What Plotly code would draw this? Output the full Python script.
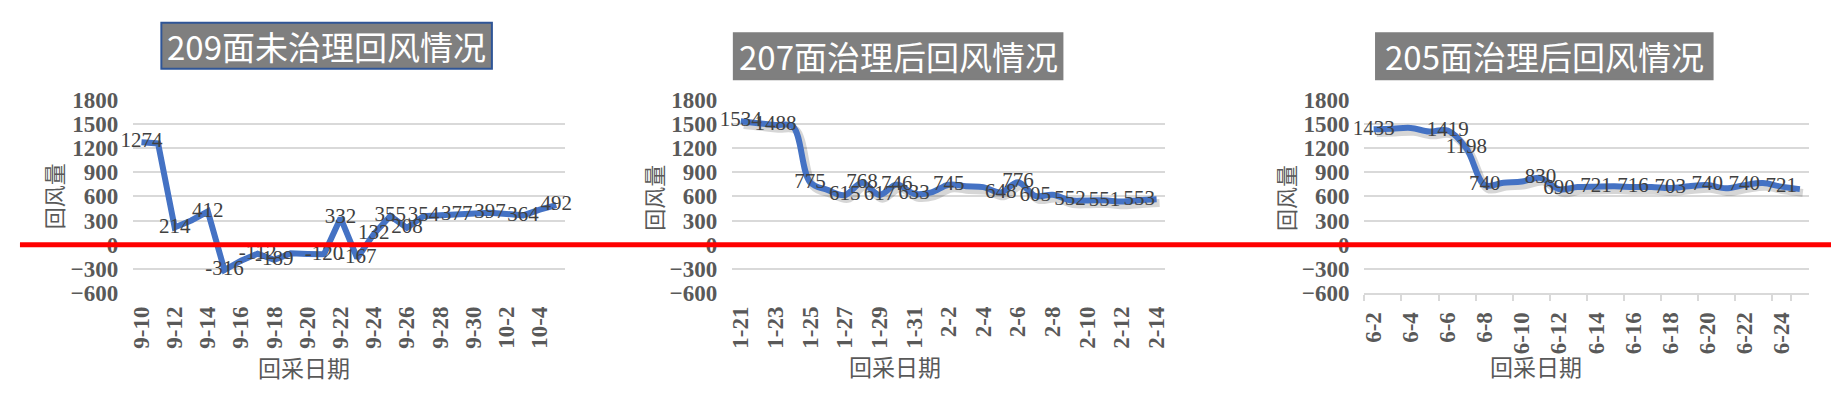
import plotly.graph_objects as go

# ---------------- data ----------------
dates_209 = ["9-10", "9-11", "9-12", "9-13", "9-14", "9-15", "9-16", "9-17", "9-18", "9-19",
             "9-20", "9-21", "9-22", "9-23", "9-24", "9-25", "9-26", "9-27", "9-28", "9-29",
             "9-30", "10-1", "10-2", "10-3", "10-4", "10-5"]
flow_209 = [1274, 1258, 214, 300, 412, -316, -200, -112, -189, -108,
            -116, -120, 332, -167, 132, 355, 208, 354, 365, 377,
            388, 397, 382, 364, 435, 492]
label_idx_209 = [0, 2, 4, 5, 7, 8, 11, 12, 13, 14, 15, 16, 17, 19, 21, 23, 25]

dates_207 = ["1-21", "1-22", "1-23", "1-24", "1-25", "1-26", "1-27", "1-28", "1-29", "1-30",
             "1-31", "2-1", "2-2", "2-3", "2-4", "2-5", "2-6", "2-7", "2-8", "2-9",
             "2-10", "2-11", "2-12", "2-13", "2-14"]
flow_207 = [1534, 1510, 1488, 1470, 775, 680, 615, 768, 617, 746,
            633, 650, 745, 725, 715, 648, 776, 605, 620, 552,
            550, 551, 535, 553, 565]
label_idx_207 = [0, 2, 4, 6, 7, 8, 9, 10, 12, 15, 16, 17, 19, 21, 23]

dates_205 = ["6-2", "6-3", "6-4", "6-5", "6-6", "6-7", "6-8", "6-9", "6-10", "6-11",
             "6-12", "6-13", "6-14", "6-15", "6-16", "6-17", "6-18", "6-19", "6-20", "6-21",
             "6-22", "6-23", "6-24", "6-25"]
flow_205 = [1433, 1440, 1450, 1405, 1419, 1198, 740, 770, 785, 830,
            690, 715, 721, 725, 716, 715, 703, 725, 740, 700,
            740, 765, 721, 690]
label_idx_205 = [0, 4, 5, 6, 9, 10, 12, 14, 16, 18, 20, 22]

titles = ["209面未治理回风情况", "207面治理后回风情况", "205面治理后回风情况"]
y_title = "回风量"
x_title = "回采日期"
y_ticks = [-600, -300, 0, 300, 600, 900, 1200, 1500, 1800]

# ---------------- layout geometry (pixels) ----------------
W, H = 1839, 409
PLOT_TOP, PLOT_BOT = 85.0, 290.7
panels_px = [(121.7, 555.0), (723.3, 1158.3), (1358.3, 1805.0)]
title_boxes = [(150, 3, 482, 52), (725, 14, 1055, 63), (1370, 14, 1708, 63)]
ytitle_pos = [(41, 188), (644, 189), (1279, 189)]
xtitle_pos = [(293, 370), (887, 368), (1531, 368)]

def px_x(x):
    return x / W

def px_y(y):
    return 1 - y / H

ydom = [px_y(PLOT_BOT), px_y(PLOT_TOP)]
BLUE = "#4472C4"
GRID = "#d9d9d9"
TICKC = "#595959"
SERIF = "Liberation Serif"
CJK = "Noto Sans CJK SC"

fig = go.Figure()

def texts(vals, idx):
    return [str(v) if i in idx else "" for i, v in enumerate(vals)]

label_font = dict(family=SERIF, size=21, color="#404040")

# Panel 1 (straight line, no shadow)
fig.add_trace(go.Scatter(x=dates_209, y=flow_209, mode="lines+text",
                         text=texts(flow_209, label_idx_209), textposition="middle center",
                         textfont=label_font, line=dict(color=BLUE, width=6),
                         cliponaxis=False, xaxis="x", yaxis="y", showlegend=False))

# Panels 2 and 3: shadow on base axes, main smooth line on overlay axes
shadow = "rgba(0,0,0,0.16)"
for base, over, dates, vals, idx in [(2, 5, dates_207, flow_207, label_idx_207),
                                     (3, 6, dates_205, flow_205, label_idx_205)]:
    fig.add_trace(go.Scatter(x=dates, y=vals, mode="lines",
                             line=dict(color=shadow, width=8, shape="spline"),
                             xaxis=f"x{base}", yaxis=f"y{base}", showlegend=False,
                             hoverinfo="skip"))
    fig.add_trace(go.Scatter(x=dates, y=vals, mode="lines+text",
                             text=texts(vals, idx), textposition="middle center",
                             textfont=label_font,
                             line=dict(color=BLUE, width=6, shape="spline"),
                             cliponaxis=False, xaxis=f"x{over}", yaxis=f"y{over}",
                             showlegend=False))

yaxis_common = dict(range=[-600, 1800], tickvals=y_ticks, showgrid=True, gridcolor=GRID,
                    gridwidth=2, zeroline=False, showline=False, ticks="",
                    tickfont=dict(family=SERIF, size=23, color=TICKC, weight="bold"),
                    ticklabelstandoff=14, fixedrange=True)

def xaxis_main(dates, ticks_on=False):
    d = dict(type="category", categoryorder="array", categoryarray=dates,
             range=[-0.5, len(dates) - 0.5], tickvals=dates[::2], tickangle=-90,
             showgrid=False, zeroline=False,
             tickfont=dict(family=SERIF, size=23, color=TICKC, weight="bold"),
             ticklabelstandoff=8, fixedrange=True)
    if ticks_on:
        d.update(ticks="outside", ticklen=6, tickcolor=GRID, tickwidth=2,
                 tickson="boundaries", showline=True, linecolor=GRID, linewidth=2)
    else:
        d.update(ticks="", showline=False)
    return d

# shadow offset in pixels -> axis units
SDX, SDY = 3, 4
def shift_x(dates, px_left, px_right):
    n = len(dates)
    per = (px_right - px_left) / n
    s = SDX / per
    return [-0.5 - s, n - 0.5 - s]

yunits = 2400 / (PLOT_BOT - PLOT_TOP)
shift_y = [-600 + SDY * yunits, 1800 + SDY * yunits]

layout = dict(width=W, height=H, margin=dict(l=0, r=0, t=0, b=0),
              paper_bgcolor="white", plot_bgcolor="white")

# panel 1
layout["xaxis"] = dict(domain=[px_x(panels_px[0][0]), px_x(panels_px[0][1])], anchor="y",
                       **xaxis_main(dates_209))
layout["yaxis"] = dict(domain=ydom, anchor="x", **yaxis_common)

# base (shadow) axes for panels 2, 3
for k, (dates, p) in zip([2, 3], [(dates_207, panels_px[1]), (dates_205, panels_px[2])]):
    layout[f"xaxis{k}"] = dict(domain=[px_x(p[0]), px_x(p[1])], anchor=f"y{k}",
                               type="category", categoryorder="array", categoryarray=dates,
                               range=shift_x(dates, p[0], p[1]), visible=False, fixedrange=True)
    layout[f"yaxis{k}"] = dict(domain=ydom, anchor=f"x{k}", range=shift_y,
                               visible=False, fixedrange=True)

# overlay axes (main lines + visible grid/ticks)
layout["xaxis5"] = dict(overlaying="x2", anchor="y5", **xaxis_main(dates_207))
layout["yaxis5"] = dict(overlaying="y2", anchor="x5", **yaxis_common)
layout["xaxis6"] = dict(overlaying="x3", anchor="y6", **xaxis_main(dates_205, ticks_on=True))
layout["yaxis6"] = dict(overlaying="y3", anchor="x6", **yaxis_common)

fig.update_layout(**layout)

shapes = []
annotations = []
for i, (x0, y0, x1, y1) in enumerate(title_boxes):
    shapes.append(dict(type="rect", xref="paper", yref="paper",
                       x0=px_x(x0), x1=px_x(x1), y0=px_y(y1), y1=px_y(y0),
                       fillcolor="#7f7f7f",
                       line=dict(color="#2f5597" if i == 0 else "#7f7f7f", width=2),
                       layer="above"))
    annotations.append(dict(text=titles[i], xref="paper", yref="paper",
                            x=px_x((x0 + x1) / 2), y=px_y((y0 + y1) / 2),
                            xanchor="center", yanchor="middle", showarrow=False,
                            font=dict(family=CJK, size=33, color="white")))
for (yx, yy), (xx, xy) in zip(ytitle_pos, xtitle_pos):
    annotations.append(dict(text=y_title, xref="paper", yref="paper",
                            x=px_x(yx), y=px_y(yy), xanchor="center", yanchor="middle",
                            textangle=-90, showarrow=False,
                            font=dict(family=CJK, size=22, color=TICKC)))
    annotations.append(dict(text=x_title, xref="paper", yref="paper",
                            x=px_x(xx), y=px_y(xy), xanchor="center", yanchor="middle",
                            showarrow=False, font=dict(family=CJK, size=23, color=TICKC)))

# red zero reference line across the whole picture
shapes.append(dict(type="line", xref="paper", yref="y", x0=8 / W, x1=1, y0=0, y1=0,
                   line=dict(color="#ff0000", width=5), layer="above"))

fig.update_layout(shapes=shapes, annotations=annotations)
fig.write_html("out.html")
